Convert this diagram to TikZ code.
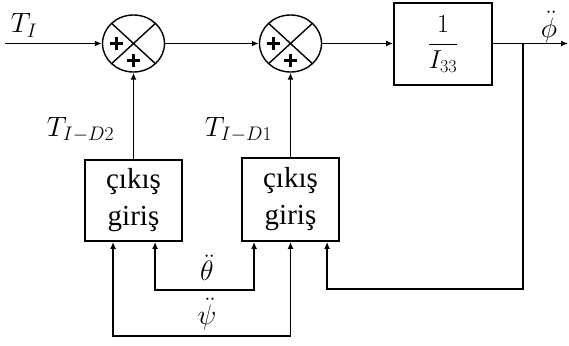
\RequirePackage{fix-cm}
\documentclass[tikz,border=0pt]{standalone}
\usepackage{fontspec}
\setmainfont{Liberation Serif}
\usetikzlibrary{arrows.meta,shapes.geometric,calc}
\begin{document}
\begin{tikzpicture}[x=1pt,y=-1pt, line width=1.8pt,
  tip/.tip={Latex[length=7pt,width=6pt]},
  sig/.style={-tip},
  sumj/.style={ellipse, draw, line width=1.4pt, minimum width=62pt, minimum height=57pt, inner sep=0pt,
    path picture={\draw[line width=1.4pt] (path picture bounding box.north west)--(path picture bounding box.south east)
      (path picture bounding box.north east)--(path picture bounding box.south west);}},
  blk/.style={draw, rectangle, line width=1.8pt, inner sep=0pt},
  lbl/.style={font=\fontsize{28}{30}\selectfont, inner sep=0pt},
  pl/.style={line width=2.2pt}
]
\useasboundingbox (0,0) rectangle (569,345);

% summing junctions
\node[sumj] (s1) at (133.5,43.5) {};
\node[sumj] (s2) at (290.5,43.5) {};
\foreach \s in {s1,s2}{
  \draw[pl] ($(\s)+(-17,0)$) +(-6.5,0) -- +(6.5,0) +(0,-6.5) -- +(0,6.5);
  \draw[pl] ($(\s)+(0,17)$) +(-6.5,0) -- +(6.5,0) +(0,-6.5) -- +(0,6.5);
}

% plant block
\node[blk, minimum width=98pt, minimum height=82pt] (g) at (443,44)
  {\fontsize{26}{30}\selectfont$\displaystyle\frac{1}{I_{33}}$};

% lower blocks
\node[blk, minimum width=97pt, minimum height=81pt, align=center,
  font=\fontsize{29}{37}\selectfont] (b1) at (133.5,200.5) {çıkış\\giriş};
\node[blk, minimum width=97pt, minimum height=83pt, align=center,
  font=\fontsize{29}{37}\selectfont] (b2) at (290.5,199.5) {çıkış\\giriş};

% coordinates
\coordinate (in) at (5,43.5);
\coordinate (out) at (568,43.5);
\coordinate (br) at (523,43.5);
\coordinate (fb) at (523,289);

% forward path
\draw[sig] (in) -- (s1.west);
\draw[sig] (s1.east) -- (s2.west);
\draw[sig] (s2.east) -- (s2.east -| g.west);
\draw[sig] (s2.east -| g.east) -- (out);

% block outputs into junctions
\draw[sig] (b1.north) -- (s1.south);
\draw[sig] (b2.north) -- (s2.south);

% feedback of phi
\draw[sig] (br) -- (fb) -| ($(b2.south west)+(86,0)$);

% theta and psi signals
\draw[tip-tip] ($(b1.south west)+(71,0)$) -- ++(0,48) -| ($(b2.south west)+(13,0)$);
\draw[tip-tip] ($(b1.south west)+(29,0)$) -- ++(0,94) -| (b2.south);

% labels
\node[lbl, anchor=base west] (lTI) at (10,33) {$T_I$};
\node[lbl, anchor=base west] (lD2) at (46,136) {$T_{I-D2}$};
\node[lbl, anchor=base west] (lD1) at (204,136) {$T_{I-D1}$};
\node[lbl] (lphi) at (549,27) {$\ddot{\phi}$};
\node[lbl] (lth) at (207,268) {$\ddot{\theta}$};
\node[lbl] (lpsi) at (207,314) {$\ddot{\psi}$};
\end{tikzpicture}
\end{document}
